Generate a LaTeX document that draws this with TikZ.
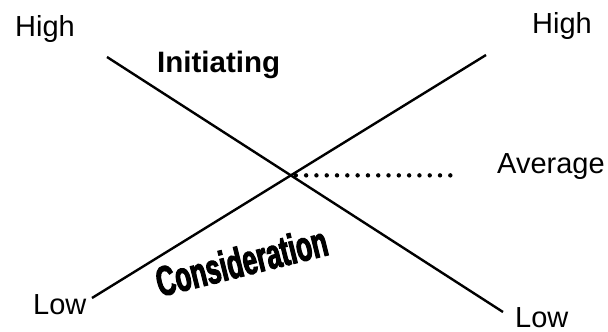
\documentclass[tikz,border=0pt]{standalone}
\usepackage{fontspec}
\setmainfont{Liberation Sans}
\newfontfamily\heavyfont[FakeBold=2.5, FakeStretch=0.62]{Liberation Sans Bold}
\usetikzlibrary{positioning}

\begin{document}
\begin{tikzpicture}[x=1pt, y=-1pt,
  lbl/.style={inner sep=0pt, anchor=base west, font=\fontsize{29}{32}\selectfont},
  dimlbl/.style={inner sep=0pt, anchor=base west, font=\fontsize{29.5}{32}\selectfont\bfseries},
  trend/.style={line width=2.4pt},
  avgline/.style={line width=4.4pt, line cap=round, dash pattern=on 0pt off 10.3pt}
]
\useasboundingbox (0,0) rectangle (608,332);
\coordinate (iStart) at (107,57);
\coordinate (iEnd) at (503,312);
\coordinate (cStart) at (92,298);
\coordinate (cEnd) at (486,55);
\coordinate (cross) at (intersection of iStart--iEnd and cStart--cEnd);
\coordinate (avgEnd) at (460,175);
\node[lbl] (highL) at (15,36) {High};
\node[lbl] (highR) at (532,33) {High};
\node[lbl] (avg) at (497,173) {Average};
\node[lbl] (lowL) at (33,314) {Low};
\node[lbl] (lowR) at (515,327) {Low};
\node[dimlbl] (init) at (157,72) {Initiating};
\node[inner sep=0pt, anchor=base west, rotate=14, font=\fontsize{42}{44}\heavyfont]
  (cons) at (160,297) {Consideration};
\draw[trend] (iStart) -- (iEnd);
\draw[trend] (cStart) -- (cEnd);
\draw[avgline] ([xshift=5pt]cross) -- (avgEnd |- cross);
\end{tikzpicture}
\end{document}
